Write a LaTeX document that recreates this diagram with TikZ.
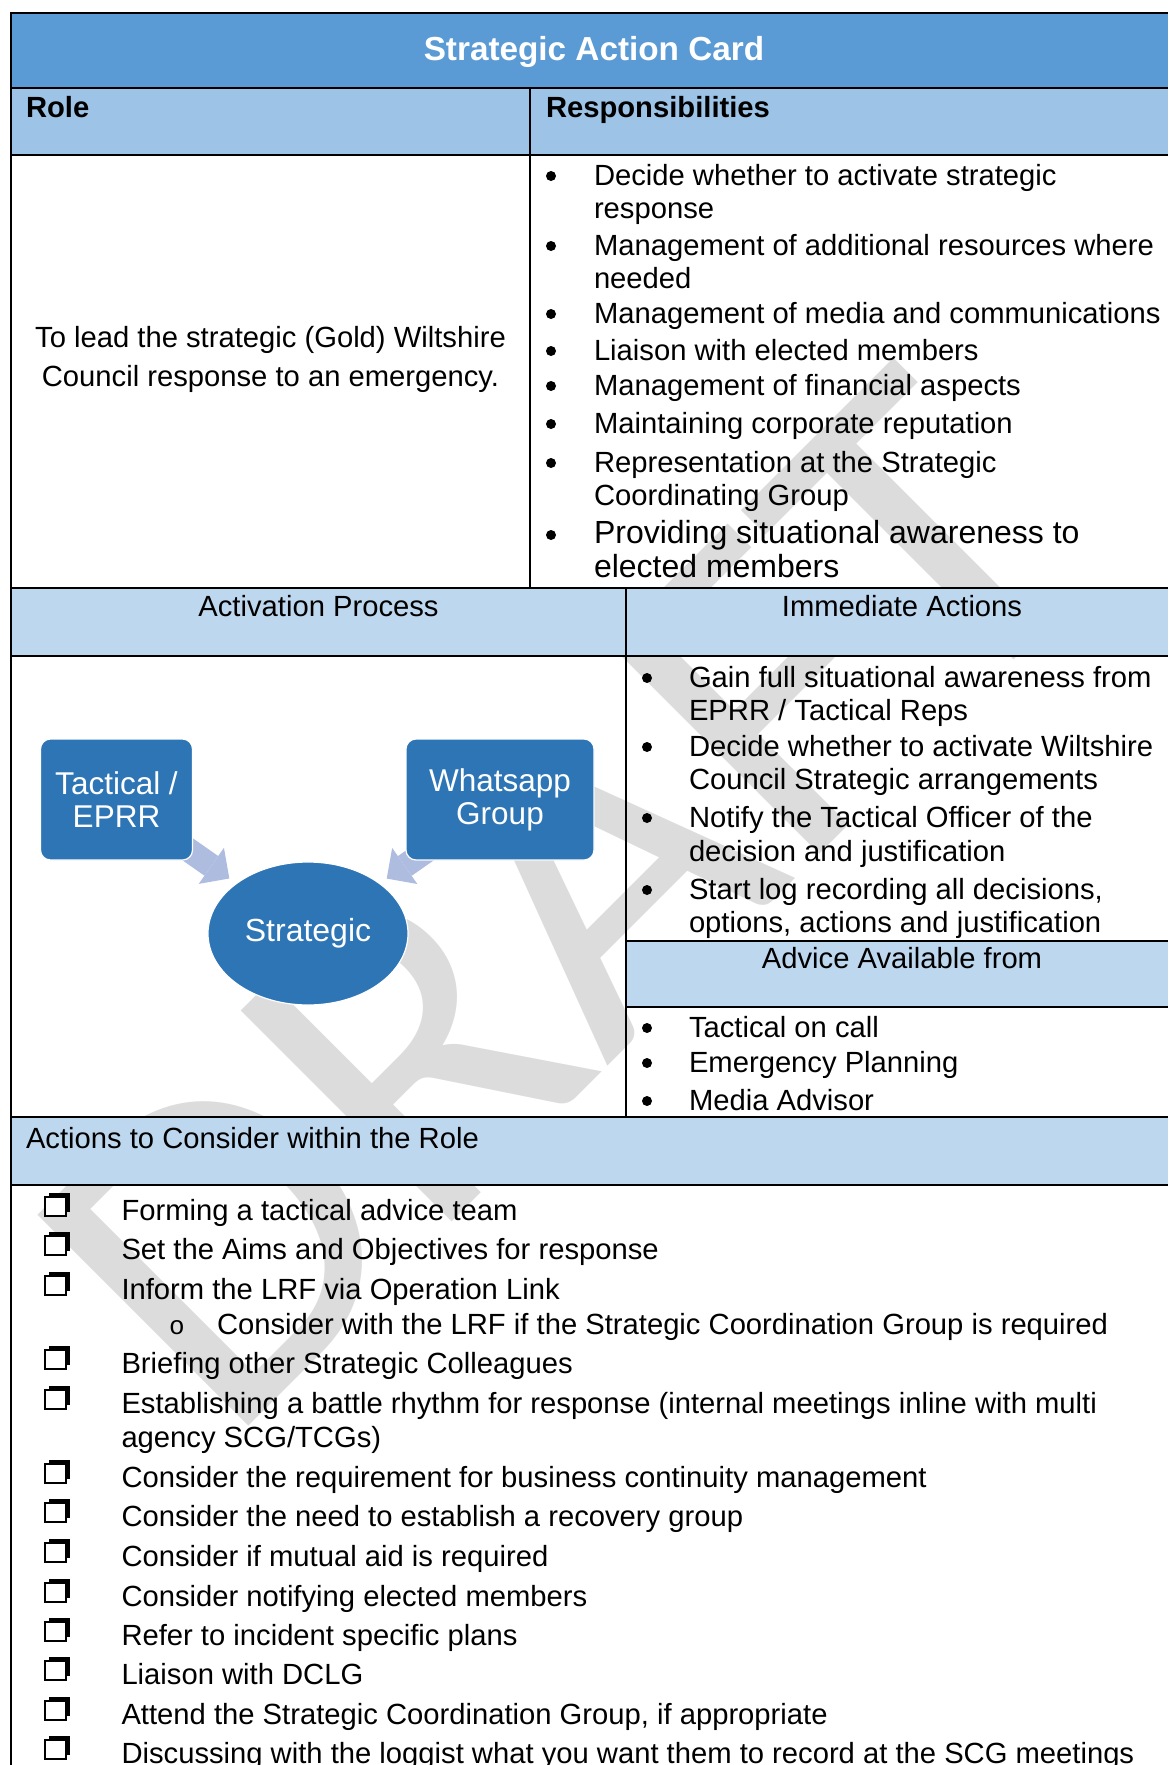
\documentclass[tikz,border=0pt]{standalone}
\usepackage{fontspec}
\setmainfont{Liberation Sans}
\newfontfamily\markfont{Carlito}
\newfontfamily\subfont{Liberation Mono}
\usetikzlibrary{shapes.geometric,arrows.meta}

\definecolor{titleblue}{HTML}{5B9BD5}
\definecolor{headblue}{HTML}{9DC3E6}
\definecolor{paleblue}{HTML}{BDD7EE}
\definecolor{boxblue}{HTML}{2E75B6}
\definecolor{arrowblue}{HTML}{AEBCE0}
\definecolor{markgray}{HTML}{DCDCDC}

\pgfdeclarelayer{mark}
\pgfdeclarelayer{shade}
\pgfdeclarelayer{links}
\pgfsetlayers{mark,shade,links,main}

\newcommand{\bodyfont}{\fontsize{29.2}{33.6}\selectfont}
\newcommand{\bigbody}{\fontsize{32}{36}\selectfont}
% bullet dot: name, x, baseline
\newcommand{\dotat}[3]{\node[bulletdot] (#1) at (#2,#3-9) {};}
% shadowed check box sitting on a baseline
\newcommand{\tickbox}[1]{%
  \fill (49,#1-27) rectangle (70,#1-8);
  \draw[line width=1.8pt,fill=white] (45,#1-23) rectangle (66,#1-4);}

\begin{document}
\begin{tikzpicture}[x=1pt,y=-1pt,
  every node/.style={inner sep=0pt,outer sep=0pt},
  line/.style={anchor=base west,font=\bodyfont},
  bigline/.style={anchor=base west,font=\bigbody},
  mid/.style={anchor=base,font=\bodyfont},
  headline/.style={anchor=base west,font=\bodyfont\bfseries},
  bulletdot/.style={circle,fill=black,minimum size=10pt},
  rule/.style={line width=2.4pt},
  smartbox/.style={rectangle,rounded corners=10pt,fill=boxblue,draw=white,line width=1.2pt,
     text=white,align=center,font=\fontsize{31.5}{33}\selectfont},
  smartell/.style={ellipse,fill=boxblue,draw=white,line width=1.2pt,text=white,
     minimum width=200pt,minimum height=143pt,font=\fontsize{32}{36}\selectfont},
  flow/.style={draw=arrowblue,line width=24pt,
     -{Triangle[length=22pt,width=44pt,line width=0pt]}},
]
\useasboundingbox (0,0) rectangle (1168,1765);

% ---------- watermark ----------
\begin{pgfonlayer}{mark}
\clip (0,0) rectangle (1168,1765);
\node[anchor=base west,rotate=45,text=markgray,
      font=\markfont\fontsize{465}{465}\selectfont] (draftmark) at (226,1448) {DRAFT};
\end{pgfonlayer}

% ---------- cell shading ----------
\begin{pgfonlayer}{shade}
\fill[titleblue] (11,13) rectangle (1168,88);
\fill[headblue] (11,88) rectangle (1168,155);
\fill[paleblue] (11,588) rectangle (1168,656);
\fill[paleblue] (626,941) rectangle (1168,1007);
\fill[paleblue] (11,1117) rectangle (1168,1185);
\end{pgfonlayer}

% ---------- table rules ----------
\draw[rule] (11,1765) -- (11,13) -- (1168,13);
\foreach \yy in {88,155,588,656,1117,1185}
  \draw[rule] (11,\yy) -- (1168,\yy);
\draw[rule] (530,88) -- (530,588);
\draw[rule] (626,588) -- (626,1117);
\draw[rule] (626,941) -- (1168,941);
\draw[rule] (626,1007) -- (1168,1007);

% ---------- headings ----------
\node[anchor=base,text=white,font=\fontsize{33.3}{38}\selectfont\bfseries] (title) at (594,60) {Strategic Action Card};
\node[headline] (rolehead) at (26,117) {Role};
\node[headline] (resphead) at (546,117) {Responsibilities};
\node[mid] (acthead) at (318.5,616) {Activation Process};
\node[mid] (immhead) at (902,616) {Immediate Actions};
\node[mid] (advhead) at (902,968) {Advice Available from};
\node[line] (conhead) at (26,1148) {Actions to Consider within the Role};

% ---------- role ----------
\node[mid] (role1) at (270.5,347) {To lead the strategic (Gold) Wiltshire};
\node[mid] (role2) at (270.5,386) {Council response to an emergency.};

% ---------- responsibilities ----------
\dotat{rb1}{551}{185} \node[line] (r1) at (594,185) {Decide whether to activate strategic};
\node[line] (r2) at (594,218) {response};
\dotat{rb2}{551}{255} \node[line] (r3) at (594,255) {Management of additional resources where};
\node[line] (r4) at (594,288) {needed};
\dotat{rb3}{551}{323} \node[line] (r5) at (594,323) {Management of media and communications};
\dotat{rb4}{551}{360} \node[line] (r6) at (594,360) {Liaison with elected members};
\dotat{rb5}{551}{395} \node[line] (r7) at (594,395) {Management of financial aspects};
\dotat{rb6}{551}{433} \node[line] (r8) at (594,433) {Maintaining corporate reputation};
\dotat{rb7}{551}{472} \node[line] (r9) at (594,472) {Representation at the Strategic};
\node[line] (r10) at (594,505) {Coordinating Group};
\dotat{rb8}{551}{544} \node[bigline] (r11) at (594,543) {Providing situational awareness to};
\node[bigline] (r12) at (594,577) {elected members};

% ---------- immediate actions ----------
\dotat{ib1}{647}{687} \node[line] (i1) at (689,687) {Gain full situational awareness from};
\node[line] (i2) at (689,720) {EPRR / Tactical Reps};
\dotat{ib2}{647}{756} \node[line] (i3) at (689,756) {Decide whether to activate Wiltshire};
\node[line] (i4) at (689,789) {Council Strategic arrangements};
\dotat{ib3}{647}{827} \node[line] (i5) at (689,827) {Notify the Tactical Officer of the};
\node[line] (i6) at (689,861) {decision and justification};
\dotat{ib4}{647}{899} \node[line] (i7) at (689,899) {Start log recording all decisions,};
\node[line] (i8) at (689,932) {options, actions and justification};

% ---------- advice ----------
\dotat{ab1}{647}{1037} \node[line] (a1) at (689,1037) {Tactical on call};
\dotat{ab2}{647}{1072} \node[line] (a2) at (689,1072) {Emergency Planning};
\dotat{ab3}{647}{1110} \node[line] (a3) at (689,1110) {Media Advisor};

% ---------- activation diagram ----------
\node[smartbox,minimum width=152pt,minimum height=121pt] (tac) at (116.5,799.5) {Tactical /\\EPRR};
\node[smartbox,minimum width=188pt,minimum height=121pt] (wapp) at (500,799.5) {Whatsapp\\Group};
\node[smartell] (strat) at (308,933.5) {Strategic};
\begin{pgfonlayer}{links}
\draw[flow,shorten <=60pt,shorten >=96pt] (tac.center) -- (strat.center);
\draw[flow,shorten <=60pt,shorten >=96pt] (wapp.center) -- (strat.center);
\end{pgfonlayer}

% ---------- actions to consider ----------
\foreach \yy/\tx [count=\i] in {
  1220/{Forming a tactical advice team},
  1259/{Set the Aims and Objectives for response},
  1299/{Inform the LRF via Operation Link},
  1373/{Briefing other Strategic Colleagues},
  1413/{Establishing a battle rhythm for response (internal meetings inline with multi},
  1487/{Consider the requirement for business continuity management},
  1526/{Consider the need to establish a recovery group},
  1566/{Consider if mutual aid is required},
  1606/{Consider notifying elected members},
  1645/{Refer to incident specific plans},
  1684/{Liaison with DCLG},
  1724/{Attend the Strategic Coordination Group, if appropriate},
  1763/{Discussing with the loggist what you want them to record at the SCG meetings}}
{
  \tickbox{\yy}
  \node[line] (c\i) at (121.5,\yy) {\tx};
}
\node[line] (c5b) at (121.5,1447) {agency SCG/TCGs)};
\node[anchor=base,font=\subfont\fontsize{26}{30}\selectfont] (subo) at (177,1334) {o};
\node[line] (c3b) at (217,1334) {Consider with the LRF if the Strategic Coordination Group is required};

\end{tikzpicture}
\end{document}
